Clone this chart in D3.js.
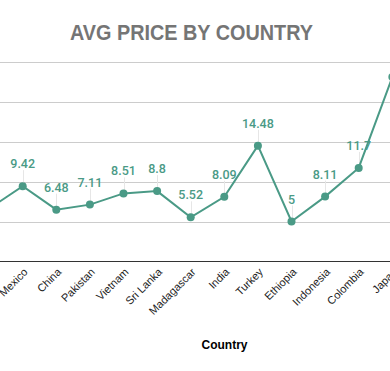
<!DOCTYPE html>
<html><head><meta charset="utf-8">
<script src="https://cdn.jsdelivr.net/npm/d3@7"></script>
<style>html,body{margin:0;padding:0;background:#fff;overflow:hidden}</style>
</head><body>
<script>
const categories = ["Brazil","Mexico","China","Pakistan","Vietnam","Sri Lanka","Madagascar","India","Turkey","Ethiopia","Indonesia","Colombia","Japan"];
const avgPrice = [6.6,9.42,6.48,7.11,8.51,8.8,5.52,8.09,14.48,5,8.11,11.7,23.05];
const yTicks = [0,5,10,15,20,25];
const title = "AVG PRICE BY COUNTRY";
const xTitle = "Country";

const W = 390, H = 371;
const teal = "#4a9a86";
const svg = d3.select("body").append("svg").attr("width", W).attr("height", H);

const x = d3.scalePoint().domain(categories).range([-10.9, -10.9 + 33.6*(categories.length-1)]);
const y = d3.scaleLinear().domain([0,25]).range([261.5, 61.5]);

svg.append("text").attr("x", 191.5).attr("y", 39.5).attr("text-anchor","middle")
  .attr("font-family","Liberation Sans, Arial, sans-serif").attr("font-weight","bold")
  .attr("font-size", 22.5).attr("fill","#757575")
  .attr("textLength", 243).attr("lengthAdjust","spacingAndGlyphs").text(title);

// gridlines
svg.append("g").selectAll("line").data(yTicks.filter(d=>d>0)).join("line")
  .attr("x1",0).attr("x2",W).attr("y1",d=>Math.round(y(d))+0.5).attr("y2",d=>Math.round(y(d))+0.5)
  .attr("stroke","#cccccc").attr("stroke-width",1);
svg.append("line").attr("x1",0).attr("x2",W).attr("y1",y(0)).attr("y2",y(0))
  .attr("stroke","#333").attr("stroke-width",1);

const data = categories.map((c,i)=>({c, v: avgPrice[i]}));

// leader lines
svg.append("g").selectAll("line").data(data.filter(d=>x(d.c) < W-15)).join("line")
  .attr("x1",d=>Math.round(x(d.c))+0.5).attr("x2",d=>Math.round(x(d.c))+0.5)
  .attr("y1",d=>y(d.v)-16).attr("y2",d=>y(d.v))
  .attr("stroke","#e6e6e6").attr("stroke-width",1);

svg.append("path").datum(data)
  .attr("d", d3.line().x(d=>x(d.c)).y(d=>y(d.v)))
  .attr("fill","none").attr("stroke",teal).attr("stroke-width",2);

svg.append("g").selectAll("circle").data(data).join("circle")
  .attr("cx",d=>x(d.c)).attr("cy",d=>y(d.v)).attr("r",4).attr("fill",teal);

svg.append("g").selectAll("text").data(data.filter(d=>x(d.c) < W-15)).join("text")
  .attr("x",d=>x(d.c)).attr("y",d=>y(d.v)-18).attr("text-anchor","middle")
  .attr("font-family","Roboto, sans-serif").attr("font-weight",500).attr("font-size",12.5)
  .attr("fill",teal).text(d=>d.v);

// x tick labels
svg.append("g").selectAll("text").data(categories).join("text")
  .attr("transform",d=>`translate(${x(d)+3},${270}) rotate(-45)`)
  .attr("text-anchor","end").attr("dy","0.35em")
  .attr("font-family","Liberation Sans, Arial, sans-serif").attr("font-size",11)
  .attr("fill","#222").text(d=>d);

svg.append("text").attr("x",224.5).attr("y",349).attr("text-anchor","middle")
  .attr("font-family","Liberation Sans, Arial, sans-serif").attr("font-weight","bold")
  .attr("font-size",12).attr("fill","#000").text(xTitle);
</script>
</body></html>
